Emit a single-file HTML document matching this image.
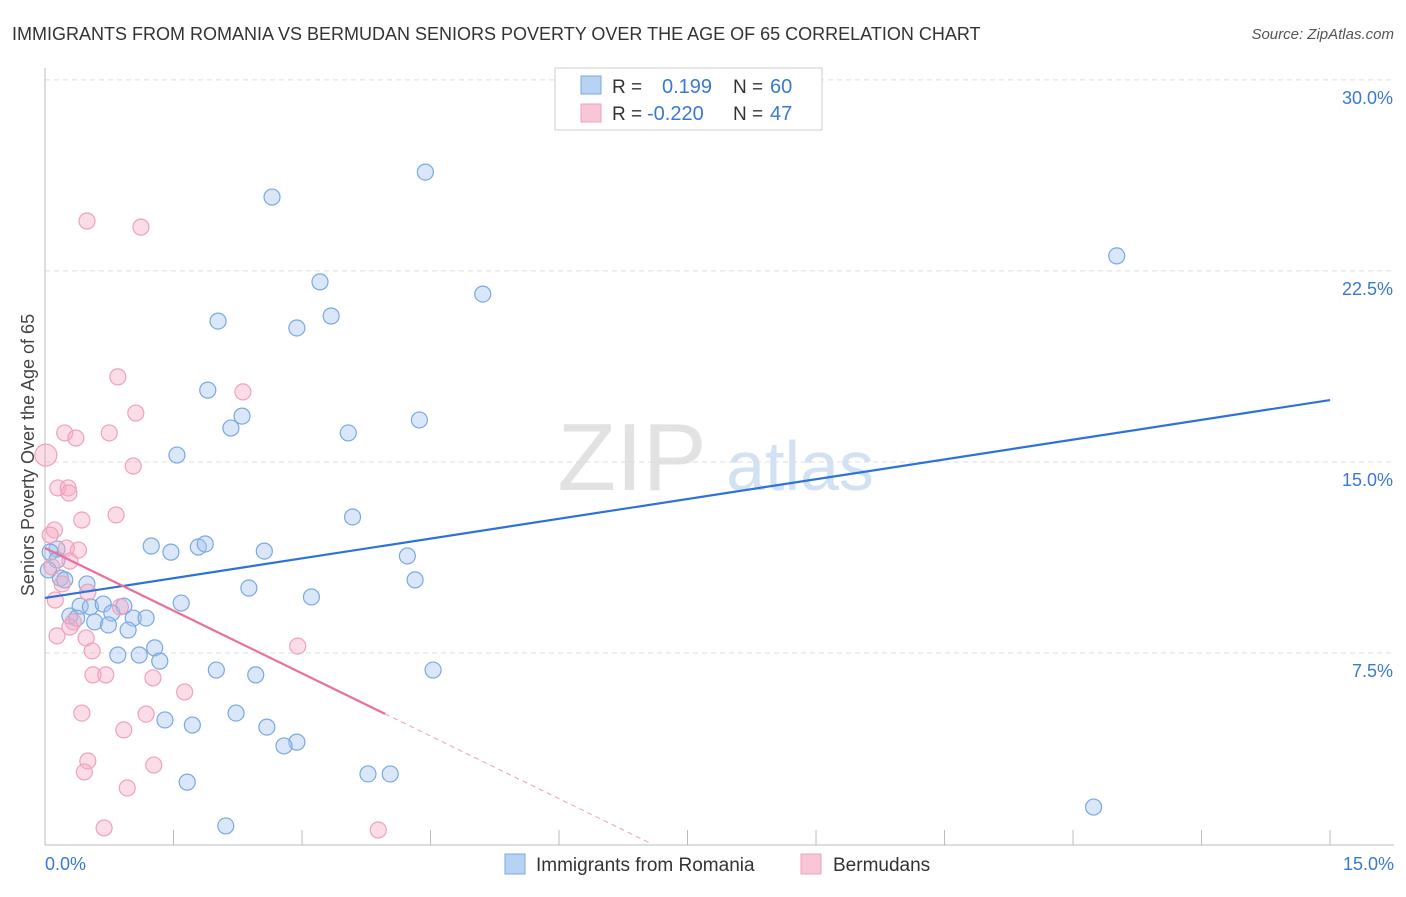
<!DOCTYPE html>
<html><head><meta charset="utf-8"><style>
body{margin:0;background:#fff;font-family:"Liberation Sans",sans-serif;}
svg text{font-family:"Liberation Sans",sans-serif;}
</style></head><body>
<svg id="chart" width="1406" height="892" xmlns="http://www.w3.org/2000/svg">
<text x="12" y="40" font-size="18" fill="#333">IMMIGRANTS FROM ROMANIA VS BERMUDAN SENIORS POVERTY OVER THE AGE OF 65 CORRELATION CHART</text>
<text x="1394" y="39" font-size="15" fill="#555" font-style="italic" text-anchor="end">Source: ZipAtlas.com</text>
<g>
<text x="632" y="490" font-size="96" fill="#e2e2e2" font-family="Liberation Serif" text-anchor="middle">ZIP</text>
<text x="800" y="490" font-size="70" fill="#d3e2f3" text-anchor="middle">atlas</text>
</g>
<g id="grid"></g>
<g id="axes"></g>
<g id="marks"></g>
<text transform="translate(34,455) rotate(-90)" font-size="18" fill="#444" text-anchor="middle">Seniors Poverty Over the Age of 65</text>
<g>
<rect x="555" y="68" width="267" height="62" fill="#fff" stroke="#ccc"/>
<rect x="581" y="76" width="20" height="18" fill="#b8d2f4" stroke="#7aa8e0"/>
<text x="612" y="93" font-size="19" fill="#333">R =</text>
<text x="662" y="93" font-size="20" fill="#3a78d4">0.199</text>
<text x="733" y="93" font-size="19" fill="#333">N =</text>
<text x="770" y="93" font-size="20" fill="#3a78d4">60</text>
<rect x="581" y="104" width="20" height="18" fill="#f8c6d6" stroke="#f0a0bc"/>
<text x="612" y="120" font-size="19" fill="#333">R =</text>
<text x="647" y="120" font-size="20" fill="#3a78d4">-0.220</text>
<text x="733" y="120" font-size="19" fill="#333">N =</text>
<text x="770" y="120" font-size="20" fill="#3a78d4">47</text>
</g>
<g>
<rect x="505" y="854" width="20" height="20" fill="#b8d2f4" stroke="#7aa8e0"/>
<text x="536" y="871" font-size="19" fill="#333">Immigrants from Romania</text>
<rect x="801" y="854" width="20" height="20" fill="#f8c6d6" stroke="#f0a0bc"/>
<text x="833" y="871" font-size="19" fill="#333">Bermudans</text>
</g>
</svg>
<script>
const blueX=[4.44,2.65,12.51,3.21,5.11,2.02,3.34,2.94,1.90,2.30,2.17,4.37,3.54,1.54,3.59,1.24,1.47,1.79,1.87,2.56,4.23,0.14,0.06,0.14,0.18,0.04,0.23,0.49,4.32,2.38,3.11,1.59,0.41,0.53,0.68,0.92,0.78,0.29,0.37,0.58,0.74,1.03,1.18,0.97,1.28,0.85,1.10,1.34,2.00,2.46,4.53,2.23,1.40,1.72,2.59,2.94,2.79,3.77,4.03,1.66,12.24,2.11];
const blueY=[26.38,25.40,23.09,22.07,21.59,20.53,20.73,20.26,17.82,16.80,16.33,16.65,16.14,15.27,12.84,11.70,11.46,11.66,11.78,11.50,11.31,11.58,11.46,11.15,10.44,10.76,10.37,10.21,10.37,10.05,9.70,9.46,9.34,9.31,9.42,9.34,9.07,8.95,8.87,8.72,8.60,8.87,8.87,8.40,7.70,7.42,7.42,7.18,6.83,6.64,6.83,5.14,4.87,4.67,4.59,4.00,3.85,2.75,2.75,2.43,1.45,0.71];
const pinkX=[0.49,1.12,0.85,2.31,1.06,0.23,0.36,0.75,0.01,1.03,0.15,0.27,0.28,0.83,0.43,0.11,0.06,0.39,0.25,0.29,0.08,0.20,0.12,0.50,0.88,0.33,0.29,0.14,0.48,2.95,0.55,0.56,0.71,1.26,1.63,0.43,1.18,0.92,0.50,1.27,0.46,0.96,0.69,3.89];
const pinkY=[24.46,24.22,18.34,17.75,16.92,16.14,15.94,16.14,15.27,14.84,13.98,13.98,13.78,12.92,12.72,12.33,12.13,11.54,11.62,11.11,10.88,10.21,9.58,9.89,9.31,8.72,8.52,8.17,8.09,7.77,7.58,6.64,6.64,6.52,5.97,5.14,5.10,4.48,3.26,3.10,2.83,2.20,0.63,0.55];
const yTicks=[7.5,15,22.5,30];
const yTickLabels=["7.5%","15.0%","22.5%","30.0%"];
const blueTrend=[9.66,17.43];
const pinkTrend=[11.62,-1.64];
const NS="http://www.w3.org/2000/svg";
const sx=v=>45+v*85.67, sy=v=>844-v*25.47;
function mk(tag,attrs,parent){const e=document.createElementNS(NS,tag);for(const k in attrs)e.setAttribute(k,attrs[k]);document.getElementById(parent).appendChild(e);return e;}
yTicks.forEach((t,i)=>{
 const g=mk('line',{x1:45,x2:1394,y1:sy(t),y2:sy(t),stroke:'#ddd','stroke-dasharray':'5,4'},'grid');
 
 
 const l=mk('text',{x:1393,y:sy(t)+24,'font-size':18,fill:'#3a78d4','text-anchor':'end'},'axes');
 l.textContent=yTickLabels[i];
 
 
});
const ax=mk('line',{x1:45,x2:1394,y1:845,y2:845,stroke:'#bbb'},'axes');


const ay=mk('line',{x1:45,x2:45,y1:68,y2:845,stroke:'#bbb'},'axes');


for(let i=0;i<=10;i++){const t=mk('line',{x1:sx(i*1.5),x2:sx(i*1.5),y1:830,y2:845,stroke:'#bbb'},'axes');
 
 }
const x0=mk('text',{x:45,y:870,'font-size':18,fill:'#3a78d4'},'axes');x0.textContent='0.0%';


const x1=mk('text',{x:1394,y:870,'font-size':18,fill:'#3a78d4','text-anchor':'end'},'axes');x1.textContent='15.0%';


blueX.forEach((x,i)=>{const c=mk('circle',{cx:sx(x),cy:sy(blueY[i]),r:8,fill:'rgba(160,195,240,0.4)',stroke:'#7aa8e0','stroke-width':1.2},'marks');
 
 });
pinkX.forEach((x,i)=>{const c=mk('circle',{cx:sx(x),cy:sy(pinkY[i]),r:i==8?11:8,fill:'rgba(245,170,195,0.4)',stroke:'#f0a0bc','stroke-width':1.2},'marks');
 
 });
const bl=mk('line',{x1:sx(0),y1:sy(blueTrend[0]),x2:sx(15),y2:sy(blueTrend[1]),stroke:'#2f72d6','stroke-width':2.2},'marks');


const pe=3.97,pz=-pinkTrend[0]/pinkTrend[1];
const pl=mk('line',{x1:sx(0),y1:sy(pinkTrend[0]),x2:sx(pe),y2:sy(pinkTrend[0]+pinkTrend[1]*pe),stroke:'#e8709a','stroke-width':2.2},'marks');


const pd=mk('line',{x1:sx(pe),y1:sy(pinkTrend[0]+pinkTrend[1]*pe),x2:sx(pz),y2:sy(0),stroke:'#e8a0b8','stroke-width':1,'stroke-dasharray':'5,4'},'marks');


</script>
</body></html>
